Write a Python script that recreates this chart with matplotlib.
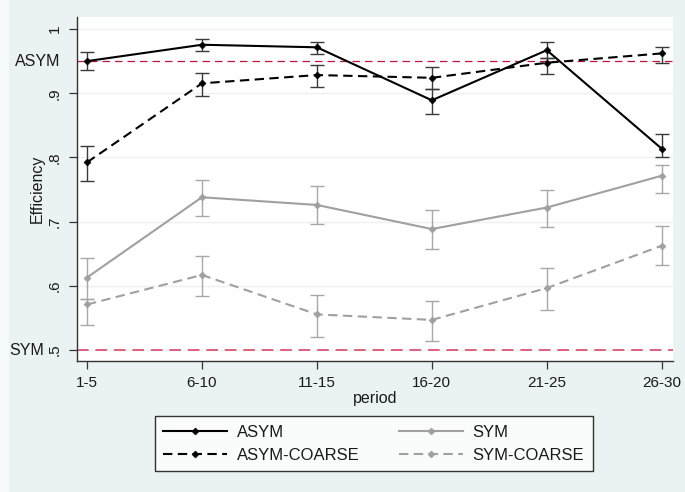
import matplotlib.pyplot as plt
import numpy as np
from matplotlib.patches import Rectangle

plt.rcParams['font.family'] = ['Liberation Sans', 'DejaVu Sans']

periods = ["1-5", "6-10", "11-15", "16-20", "21-25", "26-30"]

asym = [0.950, 0.9755, 0.9715, 0.889, 0.967, 0.8136]
asym_lo = [0.936, 0.966, 0.9616, 0.867, 0.955, 0.800]
asym_hi = [0.9636, 0.984, 0.980, 0.907, 0.979, 0.837]

asym_coarse = [0.7923, 0.9154, 0.9283, 0.924, 0.9475, 0.962]
asym_coarse_lo = [0.764, 0.8956, 0.9097, 0.907, 0.930, 0.9466]
asym_coarse_hi = [0.818, 0.932, 0.944, 0.941, 0.955, 0.9725]

sym = [0.613, 0.738, 0.726, 0.6885, 0.722, 0.7715]
sym_lo = [0.580, 0.709, 0.697, 0.658, 0.692, 0.7445]
sym_hi = [0.644, 0.765, 0.755, 0.718, 0.749, 0.788]

sym_coarse = [0.571, 0.617, 0.5556, 0.547, 0.5966, 0.6625]
sym_coarse_lo = [0.539, 0.585, 0.521, 0.514, 0.563, 0.632]
sym_coarse_hi = [0.580, 0.647, 0.586, 0.577, 0.628, 0.693]

ref_asym = 0.95
ref_sym = 0.5

yticks = [0.5, 0.6, 0.7, 0.8, 0.9, 1.0]
ytick_labels = [".5", ".6", ".7", ".8", ".9", "1"]

bg = '#eaf2f3'
fig = plt.figure(figsize=(6.85, 4.92), dpi=100, facecolor=bg)
fig.patches.append(Rectangle((0, 0), 9 / 685, 1, transform=fig.transFigure,
                             facecolor='#f6fafb', edgecolor='none', zorder=0))
ax = fig.add_axes([77 / 685, 1 - 361 / 492, 596 / 685, 344 / 492])
ax.set_facecolor('white')

x = np.arange(len(periods))

dash = (0, (4.5, 2.6))
series = [
    ("ASYM", asym, asym_lo, asym_hi, 'black', '#3a3a3a', '-'),
    ("SYM", sym, sym_lo, sym_hi, '#a0a0a0', '#a8a8a8', '-'),
    ("ASYM-COARSE", asym_coarse, asym_coarse_lo, asym_coarse_hi, 'black', '#3a3a3a', dash),
    ("SYM-COARSE", sym_coarse, sym_coarse_lo, sym_coarse_hi, '#a0a0a0', '#a8a8a8', dash),
]

# reference lines
ax.axhline(ref_asym, color='#c0143c', lw=0.9, ls=(0, (6, 4)), zorder=2)
ax.axhline(ref_sym, color='#e0607e', lw=1.4, ls=(0, (6, 3.5)), zorder=2)

handles = {}
for name, y, lo, hi, c, ec, ls in series:
    y = np.array(y)
    err = [y - np.array(lo), np.array(hi) - y]
    ax.errorbar(x, y, yerr=err, fmt='none', ecolor=ec, elinewidth=1.0,
                capsize=5, capthick=1.0, zorder=3)
    h, = ax.plot(x, y, color=c, lw=1.5, ls=ls, marker='D', markersize=3.5,
                 markerfacecolor=c, markeredgecolor=c, markeredgewidth=0.5,
                 zorder=4, label=name)
    handles[name] = h

ax.set_xlim(-0.087, 5.098)
ax.set_ylim(0.483, 1.0187)
ax.set_xticks(x)
ax.set_xticklabels(periods)
ax.set_yticks(yticks)
ax.set_yticklabels(ytick_labels, rotation=90, va='center')
ax.grid(axis='y', color=bg, lw=1.0, zorder=0)
ax.set_axisbelow(True)

for s in ['top', 'right']:
    ax.spines[s].set_visible(False)
for s in ['left', 'bottom']:
    ax.spines[s].set_color('#333333')
    ax.spines[s].set_linewidth(1.0)

ax.tick_params(axis='both', length=6, width=0.9, color='#333333',
               labelsize=11, labelcolor='#1a1a1a')
ax.tick_params(axis='y', pad=5)
ax.tick_params(axis='x', pad=5)

ax.annotate("ASYM", xy=(0, ref_asym), xycoords=('axes fraction', 'data'),
            xytext=(-17, 0), textcoords='offset pixels', ha='right', va='center',
            fontsize=11.5, color='#1a1a1a')
ax.annotate("SYM", xy=(0, ref_sym), xycoords=('axes fraction', 'data'),
            xytext=(-33, 0), textcoords='offset pixels', ha='right', va='center',
            fontsize=11.5, color='#1a1a1a')

fig.text(37 / 685, 1 - 189 / 492, "Efficiency", rotation=90, ha='center',
         va='center', fontsize=11.5, color='#1a1a1a')
fig.text(375 / 685, 1 - 398 / 492, "period", ha='center', va='center',
         fontsize=11.5, color='#1a1a1a')

order = ["ASYM", "ASYM-COARSE", "SYM", "SYM-COARSE"]
leg = fig.legend([handles[n] for n in order], order, ncol=2,
                 loc='center', bbox_to_anchor=(373.8 / 685, 1 - 443.85 / 492),
                 fontsize=12, frameon=True, fancybox=False, edgecolor='black',
                 handlelength=3.8, handletextpad=0.6, columnspacing=2.4,
                 labelspacing=0.5, borderpad=0.5)
leg.get_frame().set_linewidth(1.0)
for t in leg.get_texts():
    t.set_color('#1a1a1a')

plt.savefig('out.png', dpi=100, facecolor=bg)
